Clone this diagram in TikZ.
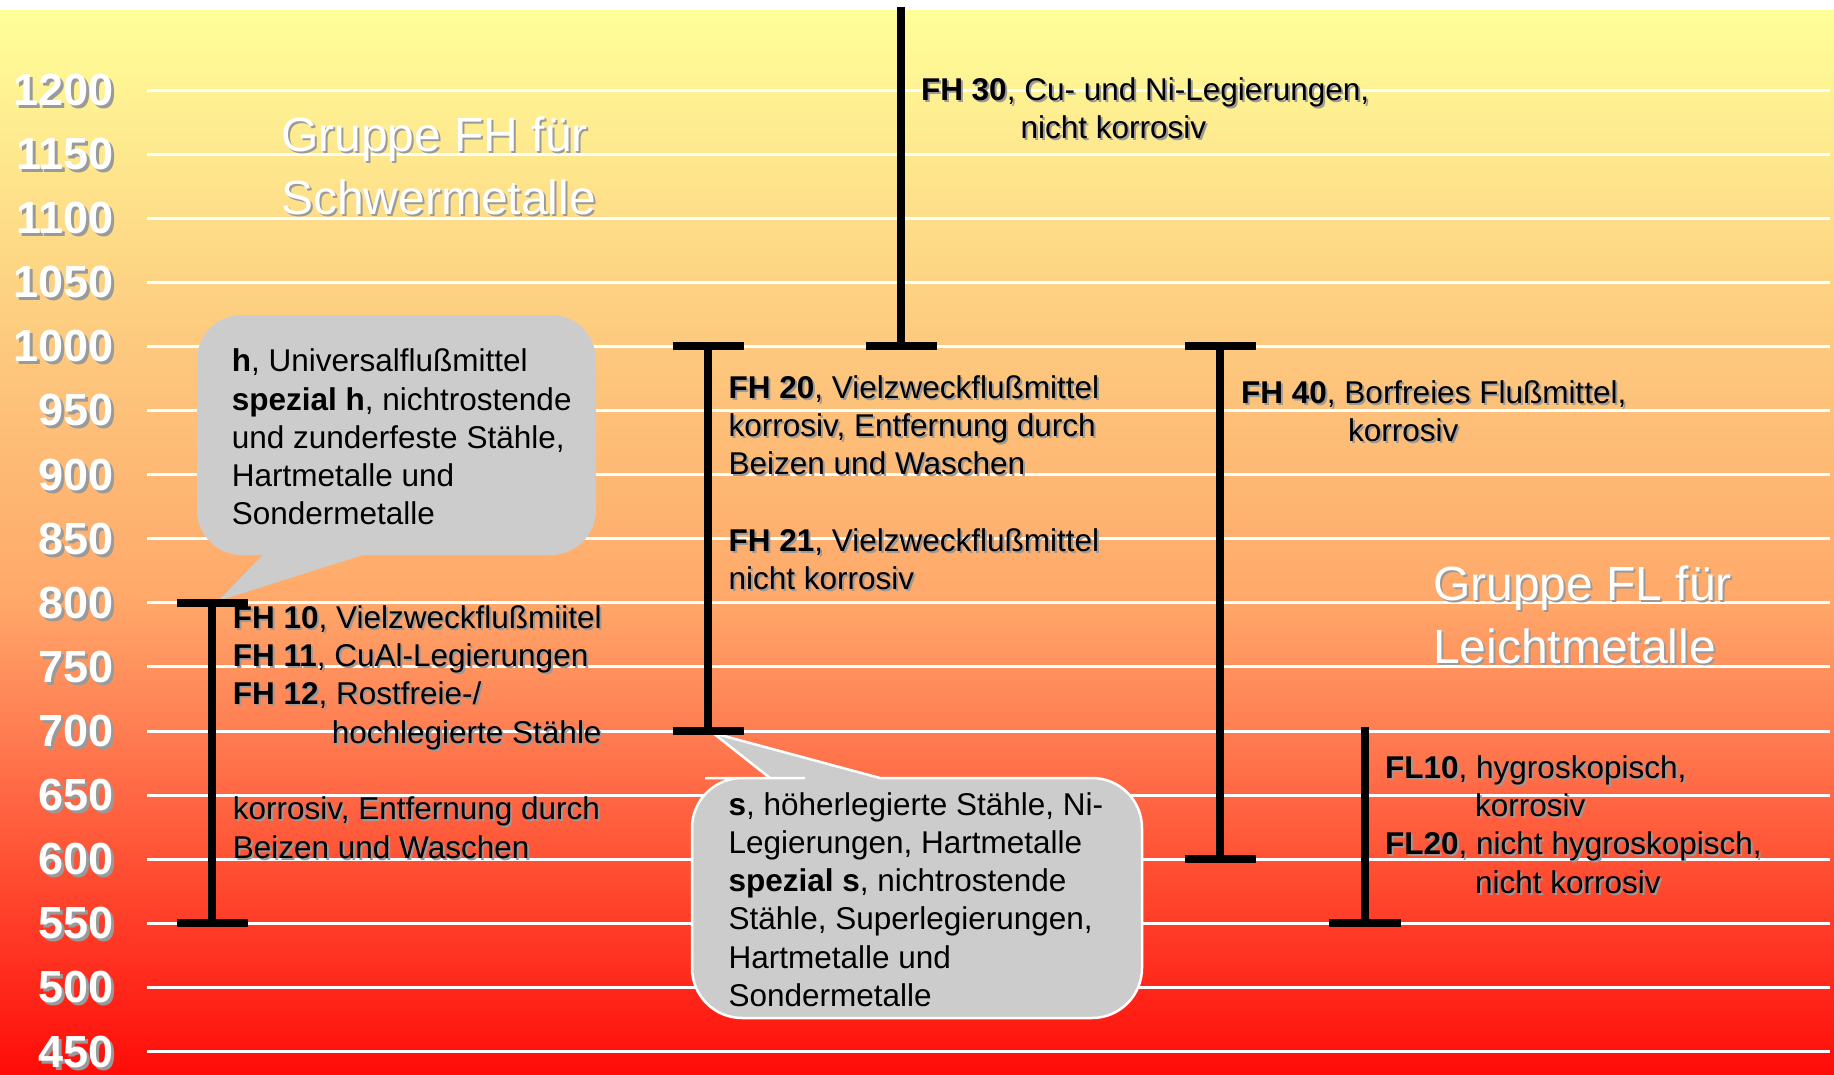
\documentclass[tikz,border=0pt]{standalone}
\usepackage{fontspec}
\setmainfont{Liberation Sans}
\usetikzlibrary{calc,positioning}

\definecolor{callgrey}{HTML}{CCCCCC}
\definecolor{shadegrey}{HTML}{9A9A9A}
\definecolor{bgyellow}{HTML}{FFFF99}
\definecolor{bgsand}{HTML}{FDC97E}
\definecolor{bgapricot}{HTML}{FFA86A}
\definecolor{bgorange}{HTML}{FF7A50}
\definecolor{bgcoral}{HTML}{FF4A30}
\definecolor{bgred}{HTML}{FF0C08}
\pgfdeclareverticalshading{heat}{100bp}{color(0bp)=(bgred); color(25bp)=(bgred); color(34bp)=(bgcoral); color(40.7bp)=(bgorange); color(47.3bp)=(bgapricot); color(59.2bp)=(bgsand); color(75bp)=(bgyellow); color(100bp)=(bgyellow)}

% text with a soft drop shadow: style, name, position, text
% (multi-line nodes sit on the baseline of their last line)
\newcommand\shadowed[4]{%
  \node[#1,dropped] at (#3) {#4};
  \node[#1] (#2) at (#3) {#4};}

\begin{document}
\begin{tikzpicture}[x=1pt,y=-1pt,
    gridline/.style={white,line width=3pt},
    bar/.style={line width=8pt},
    tempnum/.style={anchor=east,inner sep=0pt,text=white,font=\fontsize{45}{45}\selectfont\bfseries},
    txt/.style={anchor=base west,align=left,inner sep=0pt,font=\fontsize{31.5}{38.3}\selectfont},
    grouptitle/.style={txt,text=white,font=\fontsize{48}{63}\selectfont},
    dropped/.style={text=shadegrey,xshift=2pt,yshift=-2pt},
    callout/.style={fill=callgrey}]

  \useasboundingbox (0,0) rectangle (1834,1074);
  \fill[white] (0,0) rectangle (1834,1074);
  \shade[shading=heat] (0,10) rectangle (1834,1074);

  % temperature scale
  \foreach \t in {450,500,...,1200} {
    \pgfmathsetmacro\yy{90+(1200-\t)*1.282}
    \draw[gridline] (147,\yy) -- (1830,\yy);
    \node[tempnum,text=shadegrey] at (117,\yy+3) {\t};
    \node[tempnum] (t\t) at (114,\yy) {\t};
  }

  % callouts
  \fill[callout] (400,315) [rounded corners=45] -- (197,315) -- (197,555) -- (245,555)
    [sharp corners] -- (263,555) -- (218,601) -- (363,555) -- (380,555)
    [rounded corners=45] -- (596,555) -- (596,315) -- cycle;
  \filldraw[callout,draw=white,line width=2.5pt] (692,900) [rounded corners=50] -- (692,778) -- (755,778)
    [sharp corners] -- (770,778) -- (713,733) -- (880,778) -- (890,778)
    [rounded corners=50] -- (1142,778) -- (1142,1018) -- (692,1018) -- cycle;

  % ranges
  \coordinate (fh10top) at (212,602.8);
  \coordinate (fh10bot) at (212,923.3);
  \draw[bar] (fh10top) -- (fh10bot);
  \draw[bar] ([xshift=-35pt]fh10top) -- ([xshift=36pt]fh10top);
  \draw[bar] ([xshift=-35pt]fh10bot) -- ([xshift=36pt]fh10bot);

  \coordinate (fh20top) at (707.6,346.4);
  \coordinate (fh20bot) at (707.6,731);
  \draw[bar] (fh20top) -- (fh20bot);
  \draw[bar] ([xshift=-35pt]fh20top) -- ([xshift=36pt]fh20top);
  \draw[bar] ([xshift=-35pt]fh20bot) -- ([xshift=36pt]fh20bot);

  \coordinate (fh30top) at (900.5,7);
  \coordinate (fh30bot) at (900.5,346.4);
  \draw[bar] (fh30top) -- (fh30bot);
  \draw[bar] ([xshift=-35pt]fh30bot) -- ([xshift=36pt]fh30bot);

  \coordinate (fh40top) at (1220,346.4);
  \coordinate (fh40bot) at (1220,859.2);
  \draw[bar] (fh40top) -- (fh40bot);
  \draw[bar] ([xshift=-35pt]fh40top) -- ([xshift=36pt]fh40top);
  \draw[bar] ([xshift=-35pt]fh40bot) -- ([xshift=36pt]fh40bot);

  \coordinate (fltop) at (1364.5,727);
  \coordinate (flbot) at (1364.5,923.3);
  \draw[bar] (fltop) -- (flbot);
  \draw[bar] ([xshift=-36pt]flbot) -- ([xshift=36pt]flbot);

  % group titles
  \shadowed{grouptitle}{fhtitle}{281,214.7}{Gruppe FH für\\Schwermetalle}
  \shadowed{grouptitle}{fltitle}{1433,663}{Gruppe FL für\\Leichtmetalle}

  % texts
  \node[txt] (hcall) at (231.7,524.9) {\textbf{h}, Universalflußmittel\\\textbf{spezial h}, nichtrostende\\und zunderfeste Stähle,\\Hartmetalle und\\Sondermetalle};
  \node[txt] (scall) at (728.3,1006.5) {\textbf{s}, höherlegierte Stähle, Ni-\\Legierungen, Hartmetalle\\\textbf{spezial s}, nichtrostende\\Stähle, Superlegierungen,\\Hartmetalle und\\Sondermetalle};
  \shadowed{txt}{fh10txt}{232.7,858.1}{\textbf{FH 10}, Vielzweckflußmiitel\\\textbf{FH 11}, CuAl-Legierungen\\\textbf{FH 12}, Rostfreie-/\\\hspace*{99pt}hochlegierte Stähle\\[38.3pt]korrosiv, Entfernung durch\\Beizen und Waschen}
  \shadowed{txt}{fh20txt}{728.5,589.8}{\textbf{FH 20}, Vielzweckflußmittel\\korrosiv, Entfernung durch\\Beizen und Waschen\\[38.3pt]\textbf{FH 21}, Vielzweckflußmittel\\nicht korrosiv}
  \shadowed{txt}{fh30txt}{920.8,138.3}{\textbf{FH 30}, Cu- und Ni-Legierungen,\\\hspace*{99.5pt}nicht korrosiv}
  \shadowed{txt}{fh40txt}{1241,441.6}{\textbf{FH 40}, Borfreies Flußmittel,\\\hspace*{107pt}korrosiv}
  \shadowed{txt}{fltxt}{1385,893.2}{\textbf{FL10}, hygroskopisch,\\\hspace*{90pt}korrosiv\\\textbf{FL20}, nicht hygroskopisch,\\\hspace*{90pt}nicht korrosiv}
\end{tikzpicture}
\end{document}
